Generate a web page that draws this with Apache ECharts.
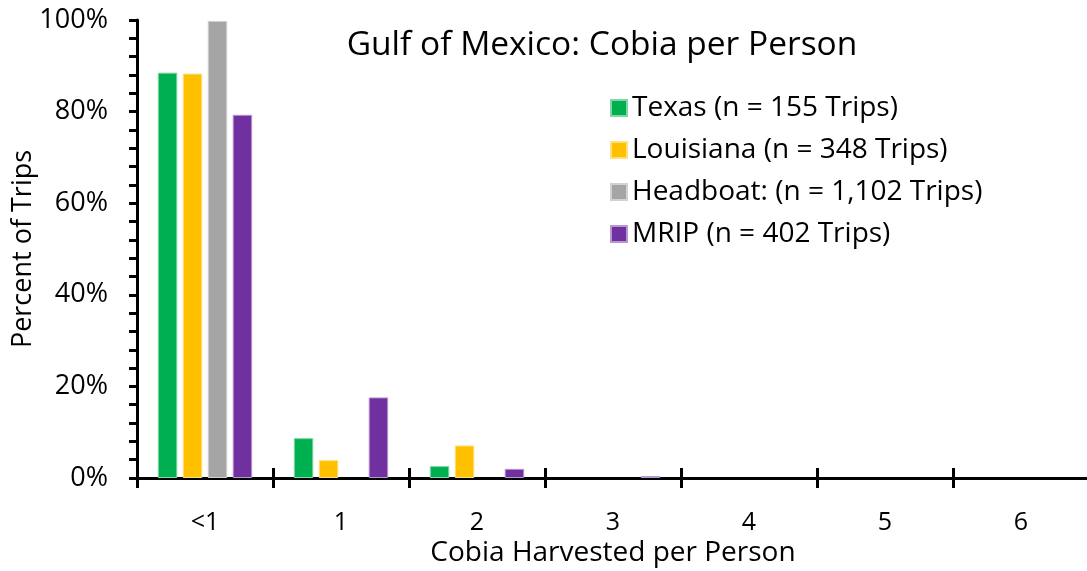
<!DOCTYPE html>
<html><head><meta charset="utf-8">
<script src="https://cdn.jsdelivr.net/npm/echarts@6/dist/echarts.min.js"></script>
<style>html,body{margin:0;padding:0;background:#fff}#c{width:1087px;height:571px}</style>
</head><body><div id="c"></div>
<script>
const categories = ['<1', '1', '2', '3', '4', '5', '6'];
const texas = [88.5, 8.7, 2.6, 0, 0, 0, 0];
const louisiana = [88.3, 3.9, 7.1, 0, 0, 0, 0];
const headboat = [99.8, 0, 0, 0, 0, 0, 0];
const mrip = [79.3, 17.6, 2.0, 0.4, 0, 0, 0];
const seriesNames = ['Texas (n = 155 Trips)', 'Louisiana (n = 348 Trips)', 'Headboat: (n = 1,102 Trips)', 'MRIP (n = 402 Trips)'];
const colors = ['#00B050', '#FFC000', '#A5A5A5', '#7030A0'];
const borders = ['#7fd7a7', '#ffdf80', '#d2d2d2', '#b797cf'];
const FONT = 'Open Sans';
const chart = echarts.init(document.getElementById('c'));
const data = [texas, louisiana, headboat, mrip];
chart.setOption({
  animation: false,
  textStyle: {fontFamily: FONT, color: '#000'},
  title: {text: 'Gulf of Mexico: Cobia per Person', left: 597, top: 23, textAlign: 'center',
    textStyle: {fontFamily: FONT, fontSize: 33.5, fontWeight: 'normal', color: '#000'}},
  legend: {orient: 'vertical', left: 605, top: 87, itemWidth: 16, itemHeight: 16, itemGap: 10,
    icon: 'rect', textStyle: {fontFamily: FONT, fontSize: 28, color: '#000', lineHeight: 32},
    data: seriesNames},
  grid: {left: 137, top: 20, width: 952, height: 458, containLabel: false, outerBoundsMode: 'none'},
  xAxis: [{type: 'category', data: categories, position: 'bottom',
    axisLine: {lineStyle: {color: '#000', width: 3}},
    axisTick: {show: true, length: 10, lineStyle: {color: '#000', width: 3}},
    axisLabel: {fontFamily: FONT, fontSize: 25, color: '#000', margin: 32},
    name: 'Cobia Harvested per Person', nameLocation: 'middle', nameGap: 61, nameMoveOverlap: false,
    nameTextStyle: {fontFamily: FONT, fontSize: 28, color: '#000'}},
   {type: 'category', data: categories, position: 'bottom', gridIndex: 0,
    axisLine: {show: false}, axisLabel: {show: false},
    axisTick: {show: true, inside: true, length: 10, lineStyle: {color: '#000', width: 3}}}],
  yAxis: {type: 'value', min: 0, max: 100, interval: 20,
    axisLine: {show: true, lineStyle: {color: '#000', width: 3}},
    axisTick: {show: true, length: 8, lineStyle: {color: '#000', width: 3}},
    minorTick: {show: true, splitNumber: 5, length: 8, lineStyle: {color: '#000', width: 3}},
    splitLine: {show: false},
    axisLabel: {formatter: '{value}%', fontFamily: FONT, fontSize: 27, color: '#000', margin: 29},
    name: 'Percent of Trips', nameLocation: 'middle', nameGap: 100, nameMoveOverlap: false,
    nameTextStyle: {fontFamily: FONT, fontSize: 27, color: '#000'}},
  series: data.map((d, i) => ({
    name: seriesNames[i], type: 'bar', data: d.map(v => v === 0 ? '-' : v), barWidth: 19.5, barGap: '28%',
    itemStyle: {color: colors[i], borderColor: borders[i], borderWidth: 1}
  }))
});
</script></body></html>
